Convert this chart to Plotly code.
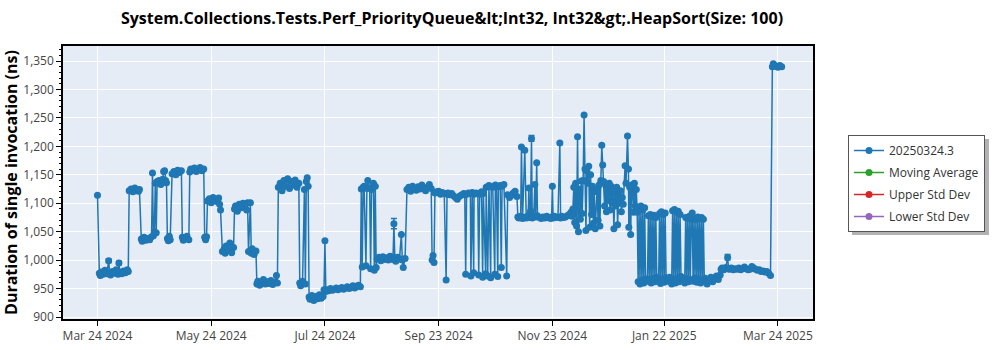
import pandas as pd
import plotly.graph_objects as go

BASE_DATE = "2024-03-24"

# ---- data: day offset from Mar 24 2024, duration in ns ----
spring_days = [0, 1, 1.5, 2, 3, 4, 5, 6, 6.5, 7, 8, 9, 10, 11, 11.5, 12, 13, 14, 15, 16, 16.5,
               17, 18, 19, 20, 21, 22, 22.5, 23.5, 24, 25, 26, 27, 28, 29, 29.5, 30, 30.5, 31, 31.5,
               32, 33, 34, 35, 35.5, 36, 36.5, 37, 37.5, 38, 38.5, 39,
               40, 41, 42, 43, 44, 45, 45.5, 46, 47, 48, 49,
               49.5, 50, 51, 52, 53, 54, 55, 56, 57, 57.5, 58, 58.5,
               59, 60, 61, 62, 63, 64, 65, 65.5, 66,
               67, 68, 68.5, 69, 70, 71, 72, 73,
               73.5, 74, 75, 76, 77, 78, 79, 80, 80.5,
               81, 82, 82.5, 83, 84, 85,
               85.5, 86, 87, 88, 89, 90, 91, 92, 93, 94, 95, 96, 96.5,
               97, 98, 99, 100, 101, 102, 103, 104, 105, 106, 107, 108,
               108.5, 109, 110, 111, 111.5, 112, 112.5, 113,
               113.5, 114, 115, 116, 117, 118, 119, 120, 121, 121.5]
spring_ns = [1114, 977, 973, 979, 975, 982, 976, 999, 978, 974, 980, 977, 983, 975, 995, 979, 976, 981, 978, 983, 980,
             1122, 1125, 1120, 1127, 1123, 1121, 1124, 1037, 1033, 1040, 1035, 1038, 1036, 1041, 1153, 1043, 1050, 1135, 1048,
             1138, 1140, 1133, 1142, 1156, 1157, 1140, 1136, 1038, 1034, 1042, 1036,
             1152, 1156, 1150, 1158, 1154, 1157, 1040, 1035, 1038, 1042, 1036,
             1155, 1160, 1158, 1162, 1156, 1159, 1163, 1157, 1160, 1040, 1036, 1041,
             1104, 1108, 1101, 1110, 1105, 1103, 1109, 1098, 1088,
             1015, 1020, 1012, 1025, 1018, 1030, 1013, 1022,
             1090, 1095, 1086, 1098, 1092, 1100, 1094, 1088, 1101,
             1015, 1101, 1012, 1020, 1010, 1016,
             958, 963, 956, 960, 966, 958, 962, 959, 964, 957, 961, 973, 960,
             1128, 1135, 1122, 1140, 1130, 1143, 1126, 1138, 1132, 1141, 1128, 1135,
             960, 955, 963, 1124, 958, 1138, 1145, 1130,
             935, 931, 938, 929, 936, 932, 939, 933, 936, 948]

summer_days = [122, 122.5, 123, 124, 125, 126, 127, 128, 129, 130, 131, 132, 133, 134, 135, 136, 137, 138, 139, 140, 141,
               141.5, 142, 142.5, 143, 144, 144.5, 145, 146, 146.5, 147, 148, 148.5, 149, 149.5,
               150, 151, 152, 153, 154, 155, 156, 157, 158, 158.5, 159, 159.5, 160, 161, 162, 163, 163.5, 164, 165,
               166, 167, 168, 169, 170, 171, 172, 173, 174, 175, 176, 177, 178, 179,
               179.5, 180, 180.5,
               181, 182, 183, 184, 185, 186, 187, 187.5, 188, 189, 190, 191, 192, 193, 194, 195, 196,
               196.5, 197, 197.5, 198, 199, 200, 200.3, 201, 201.8, 202, 203, 204, 204.5, 205, 206, 206.6, 207,
               208.2, 208.5, 209.3, 209.6, 210, 210.9, 211.2, 212, 213.1, 213.4, 214, 214.7, 215,
               216, 216.6, 217, 218, 219.5, 220, 221, 222, 223, 224, 225]
summer_ns = [1034, 945, 948, 946, 950, 947, 949, 951, 948, 950, 952, 949, 951, 953, 950, 952, 955, 951, 954, 956, 953,
             1125, 988, 1128, 1130, 990, 1126, 1140, 1127, 985, 1124, 1135, 982, 1130, 987,
             1002, 1005, 999, 1006, 1001, 1004, 1000, 1007, 1003, 1001, 1064, 1004, 998, 1005, 1002, 1045, 1000, 987, 1003,
             1124, 1128, 1121, 1130, 1126, 1123, 1129, 1125, 1132, 1127, 1122, 1128, 1133, 1126,
             1000, 1008, 996,
             1118, 1120, 1121, 1116, 1119, 1117, 965, 1116, 1118, 1115, 1117, 1113, 1110, 1107, 1112, 1114, 1116,
             1117, 1115, 975, 1116, 1118, 1117, 972, 1119, 978, 1116, 1118, 1117, 974, 1116, 1120, 970, 1117,
             976, 1128, 972, 1130, 1131, 969, 1129, 1128, 975, 1132, 1130, 971, 1129,
             1131, 987, 1130, 1133, 972, 1115, 1110, 1114, 1118, 1121, 1112]

autumn_days = [225.5, 226, 227, 227.4, 227.8, 228, 229.2, 229.6, 230, 231, 231.4, 231.8, 232.3, 232.8, 233.2, 234,
               234.6, 235, 235.6, 236, 237, 238, 239, 240, 241, 242, 243, 243.6, 244, 244.4, 245, 246, 247,
               248, 248.4, 249, 250, 251, 252, 253, 254, 254.5,
               255, 255.5, 256, 256.5, 257, 257.5, 258, 258.5, 259, 259.5, 260,
               260.5, 261, 261.5, 262, 262.5, 263, 263.5, 264, 264.5, 265, 265.5,
               266, 266.5, 267, 268, 268.5, 269, 269.5, 270, 270.5, 271, 271.5, 272, 272.5, 273, 273.5, 274,
               274.5, 275, 275.5, 276, 276.5, 277, 277.5, 278, 278.5, 279, 279.5, 280, 280.5, 281, 281.5, 282,
               283, 283.5, 284.3, 284.8, 285, 285.5, 286, 286.5, 287, 287.5, 288, 288.5, 289, 289.5,
               290, 290.5, 291, 291.5, 292, 292.5, 293, 293.5, 294, 295]
autumn_ns = [1076, 1074, 1077, 1199, 1075, 1073, 1193, 1076, 1074, 1078, 1127, 1075, 1086, 1214, 1074, 1077,
             1133, 1076, 1171, 1078, 1075, 1073, 1076, 1074, 1077, 1075, 1073, 1076, 1130, 1074, 1077, 1075, 1076,
             1206, 1074, 1077, 1075, 1076, 1078, 1080, 1084, 1077,
             1090, 1128, 1066, 1135, 1060, 1217, 1050, 1125, 1072, 1139, 1082,
             1140, 1255, 1160, 1052, 1157, 1135, 1165, 1058, 1150, 1080, 1130,
             1065, 1120, 1055, 1125, 1070, 1132, 1060, 1140, 1202, 1167, 1138, 1095, 1132, 1085, 1128, 1105,
             1135, 1088, 1130, 1100, 1125, 1055, 1118, 1095, 1128, 1062, 1115, 1100, 1122, 1085, 1110, 1098,
             1166, 1135, 1218, 1160, 1058, 1128, 1045, 1132, 1120, 1084, 1135, 1095, 1124, 1084,
             962, 1090, 958, 1095, 965, 1088, 960, 1092, 967, 963]

winter_days = [295.5, 296, 296.5, 297, 297.5, 298, 298.5, 299, 299.5, 300, 301, 301.5, 302, 302.5, 303, 303.5,
               304, 304.5, 305, 306, 307, 308, 308.5, 309, 309.5, 310, 310.5, 311, 311.5, 312, 312.5, 313,
               314, 315, 315.5, 316, 316.5, 317, 317.5, 318, 318.5, 319, 319.5, 320, 320.5, 321, 321.5, 322,
               322.5, 323, 323.5, 324, 324.5, 325, 325.5, 326, 327, 328, 329, 330, 331, 332, 333, 334,
               334.5, 335, 336, 337, 338, 338.5, 339, 340, 341, 342, 343, 344, 345, 346, 347, 348, 349, 350,
               351, 352, 353, 354, 355, 356, 357, 358, 359, 360, 361,
               362, 362.5, 363, 364, 365, 366, 367]
winter_ns = [1078, 966, 1080, 960, 1076, 968, 1079, 962, 1075, 970, 964, 1082, 959, 1085, 967, 1080,
             961, 1083, 969, 963, 970, 958, 1087, 966, 1089, 960, 1084, 968, 1086, 962, 1080, 971,
             965, 960, 1075, 968, 1073, 962, 1077, 966, 1072, 1083, 963, 1074, 969, 1071, 961, 1076,
             967, 1073, 960, 1075, 965, 1072, 962, 968, 958, 964, 970, 962, 967, 972, 966, 974,
             984, 986, 983, 987, 1005, 985, 984, 986, 983, 985, 984, 986, 983, 985, 988, 985, 983, 984,
             989, 986, 984, 982, 983, 980, 981, 979, 980, 977, 973,
             1340, 1345, 1343, 1341, 1339, 1342, 1340]

# error bar half-widths (ns) on selected runs, keyed by day offset
error_points = {6: 3, 11.5: 3, 159: 9, 232.8: 5, 338: 5}

tick_days = [0, 61, 122, 183, 244, 304, 365]

days = spring_days + summer_days + autumn_days + winter_days
values = spring_ns + summer_ns + autumn_ns + winter_ns
errors = [error_points.get(d, 0) for d in days]

base = pd.Timestamp(BASE_DATE)
x_dates = [base + pd.Timedelta(days=d) for d in days]
tick_dates = [base + pd.Timedelta(days=d) for d in tick_days]

BLUE = "#1f77b4"
FONT = "Open Sans"

# layout geometry (pixels)
L, R, T, B = 63, 187, 46, 31
PW, PH = 1000 - L - R, 350 - T - B


def px_x(p):
    return (p - L) / PW


def px_y(p):
    return 1 - (p - T) / PH


fig = go.Figure()
fig.add_trace(go.Scatter(
    x=x_dates, y=values, mode="lines+markers", name="20250324.3", legendgroup="a",
    line=dict(color=BLUE, width=1.5),
    marker=dict(color=BLUE, size=7),
    error_y=dict(type="data", array=errors, color=BLUE, thickness=1.5, width=3),
))
for i, (nm, col) in enumerate([("Moving Average", "#2ca02c"), ("Upper Std Dev", "#d62728"),
                               ("Lower Std Dev", "#9467bd")]):
    fig.add_trace(go.Scatter(x=[None], y=[None], mode="lines+markers", name=nm, legendgroup="g%d" % i,
                             line=dict(color=col, width=1.5), marker=dict(color=col, size=7)))

# legend drop shadow
fig.add_shape(type="rect", xref="paper", yref="paper",
              x0=px_x(852), x1=px_x(989), y0=px_y(235), y1=px_y(139),
              fillcolor="rgba(0,0,0,0.3)", line=dict(width=0), layer="below")

fig.update_layout(
    width=1000, height=350,
    margin=dict(l=L, r=R, t=T, b=B, autoexpand=False),
    paper_bgcolor="white", plot_bgcolor="#e5ecf6",
    font=dict(family=FONT, size=12, color="#444"),
    title=dict(text="System.Collections.Tests.Perf_PriorityQueue&amp;lt;Int32, Int32&amp;gt;.HeapSort(Size: 100)",
               x=452 / 1000, xanchor="center", y=1 - 18 / 350, yanchor="middle",
               font=dict(family=FONT, size=16, color="black", weight="bold")),
    showlegend=True,
    legend=dict(x=px_x(848), xanchor="left", y=px_y(135), yanchor="top",
                bgcolor="white", bordercolor="#555", borderwidth=1, tracegroupgap=3,
                font=dict(family=FONT, size=12, color="#333")),
)
fig.update_xaxes(
    range=[base - pd.Timedelta(days=18.5), base + pd.Timedelta(days=383.8)],
    tickvals=tick_dates, tickformat="%b %d %Y",
    showgrid=True, gridcolor="white", gridwidth=1,
    showline=True, linecolor="black", linewidth=1.5, mirror=True,
    ticks="outside", ticklen=5, tickcolor="black",
    tickfont=dict(family=FONT, size=12, color="#444"),
    zeroline=False, automargin=False,
)
fig.update_yaxes(
    range=[896.5, 1376.4], dtick=50, tickformat=",",
    showgrid=True, gridcolor="white", gridwidth=1,
    showline=True, linecolor="black", linewidth=1.5, mirror=True,
    ticks="outside", ticklen=5, tickcolor="black",
    minor=dict(dtick=10, ticks="outside", ticklen=2, tickcolor="black", showgrid=False),
    tickfont=dict(family=FONT, size=12, color="#444"),
    title=dict(text="Duration of single invocation (ns)", standoff=6,
               font=dict(family=FONT, size=16, color="black", weight="bold")),
    zeroline=False, automargin=False,
)

fig.write_html("out.html")
